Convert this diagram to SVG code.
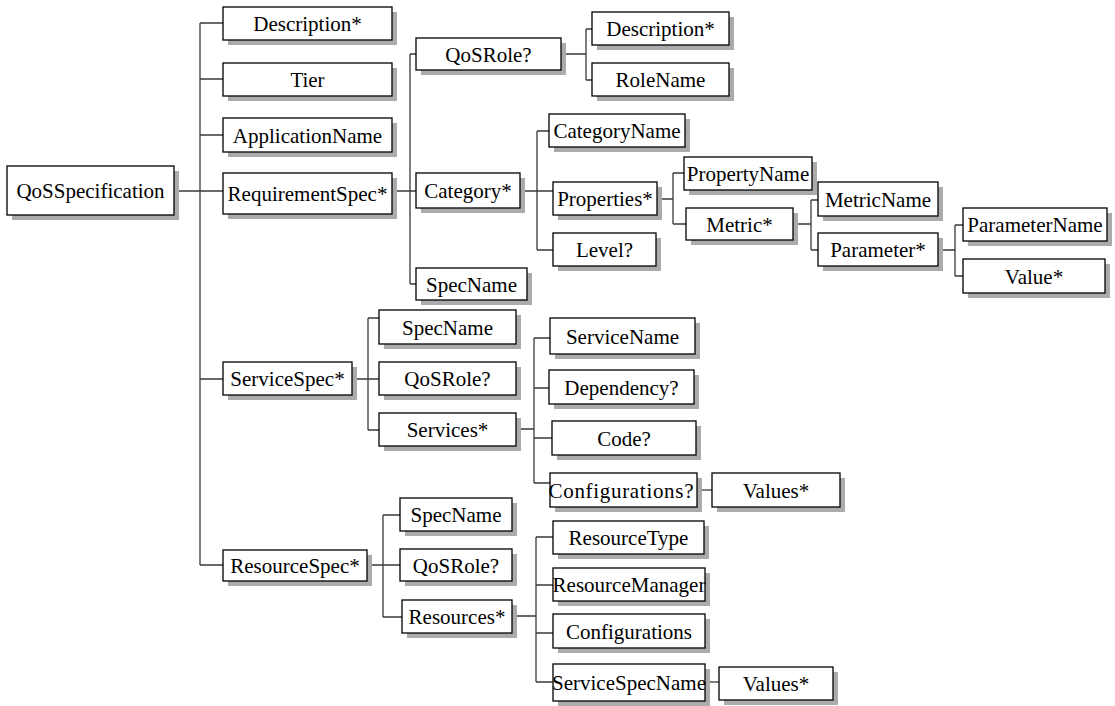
<svg xmlns="http://www.w3.org/2000/svg" width="1115" height="706" viewBox="0 0 1115 706">
  <style>
    .sh { fill: #ababab; stroke: none; }
    .bx { fill: #ffffff; stroke: #000000; stroke-width: 1.3; }
    .lb { font-family: "Liberation Serif", "Times New Roman", serif; font-size: 21px; fill: #000000; text-anchor: middle; }
    .cn { fill: none; stroke: #3a3a3a; stroke-width: 1.3; }
  </style>
  <rect width="1115" height="706" fill="#ffffff"/>

  <!-- tree connectors -->
  <g id="connectors" class="cn">
    <!-- root trunk -->
    <path d="M174 191 H223 M200 23 V565 M200 23 H223 M200 79 H223 M200 135 H223 M200 379 H223 M200 565 H223"/>
    <!-- RequirementSpec -->
    <path d="M392 191 H416 M410 54 V284 M410 54 H416 M410 284 H416"/>
    <!-- QoSRole (requirement) -->
    <path d="M561 54 H586 M586 29 V80 M586 29 H592 M586 80 H592"/>
    <!-- Category -->
    <path d="M520 191 H553 M537 131 V250 M537 131 H549 M537 250 H553"/>
    <!-- Properties -->
    <path d="M657 199 H673 M673 173 V224 M673 173 H684 M673 224 H686"/>
    <!-- Metric -->
    <path d="M793 224 H811 M811 200 V250 M811 200 H818 M811 250 H818"/>
    <!-- Parameter -->
    <path d="M938 250 H955 M955 225 V276 M955 225 H963 M955 276 H963"/>
    <!-- ServiceSpec -->
    <path d="M352 379 H379 M368 318 V430 M368 318 H379 M368 430 H379"/>
    <!-- Services -->
    <path d="M516 429 H534 M534 338 V483 M534 338 H550 M534 388 H549 M534 438 H552 M534 483 H550"/>
    <path d="M697 490 H712"/>
    <!-- ResourceSpec -->
    <path d="M367 565 H400 M383 515 V617 M383 515 H400 M383 617 H402"/>
    <!-- Resources -->
    <path d="M512 616 H536 M536 537 V682 M536 537 H553 M536 585 H553 M536 633 H553 M536 682 H553"/>
    <path d="M705 682 H719"/>
  </g>

  <!-- nodes -->
  <g id="n-qosspecification"><rect class="sh" x="12" y="171" width="167" height="49"/><rect class="bx" x="7" y="166" width="167" height="49"/><text class="lb" x="90.5" y="198">QoSSpecification</text></g>

  <g id="n-description"><rect class="sh" x="228" y="12" width="169" height="33"/><rect class="bx" x="223" y="7" width="169" height="33"/><text class="lb" x="307.5" y="31">Description*</text></g>
  <g id="n-tier"><rect class="sh" x="228" y="68" width="169" height="33"/><rect class="bx" x="223" y="63" width="169" height="33"/><text class="lb" x="307.5" y="87">Tier</text></g>
  <g id="n-applicationname"><rect class="sh" x="228" y="123" width="169" height="34"/><rect class="bx" x="223" y="118" width="169" height="34"/><text class="lb" x="307.5" y="142.5">ApplicationName</text></g>
  <g id="n-requirementspec"><rect class="sh" x="228" y="178" width="169" height="41"/><rect class="bx" x="223" y="173" width="169" height="41"/><text class="lb" x="307.5" y="201">RequirementSpec*</text></g>
  <g id="n-servicespec"><rect class="sh" x="228" y="367" width="129" height="33"/><rect class="bx" x="223" y="362" width="129" height="33"/><text class="lb" x="287.5" y="386">ServiceSpec*</text></g>
  <g id="n-resourcespec"><rect class="sh" x="228" y="555" width="144" height="31"/><rect class="bx" x="223" y="550" width="144" height="31"/><text class="lb" x="295" y="573">ResourceSpec*</text></g>

  <g id="n-req-qosrole"><rect class="sh" x="421" y="43" width="145" height="32"/><rect class="bx" x="416" y="38" width="145" height="32"/><text class="lb" x="488.5" y="61.5">QoSRole?</text></g>
  <g id="n-category"><rect class="sh" x="421" y="178" width="104" height="35"/><rect class="bx" x="416" y="173" width="104" height="35"/><text class="lb" x="468" y="198">Category*</text></g>
  <g id="n-req-specname"><rect class="sh" x="421" y="273" width="111" height="32"/><rect class="bx" x="416" y="268" width="111" height="32"/><text class="lb" x="471.5" y="291.5">SpecName</text></g>

  <g id="n-role-description"><rect class="sh" x="597" y="17" width="137" height="33"/><rect class="bx" x="592" y="12" width="137" height="33"/><text class="lb" x="660.5" y="36">Description*</text></g>
  <g id="n-rolename"><rect class="sh" x="597" y="68" width="137" height="33"/><rect class="bx" x="592" y="63" width="137" height="33"/><text class="lb" x="660.5" y="87">RoleName</text></g>

  <g id="n-categoryname"><rect class="sh" x="554" y="119" width="136" height="33"/><rect class="bx" x="549" y="114" width="136" height="33"/><text class="lb" x="617" y="138">CategoryName</text></g>
  <g id="n-properties"><rect class="sh" x="558" y="187" width="104" height="33"/><rect class="bx" x="553" y="182" width="104" height="33"/><text class="lb" x="605" y="206">Properties*</text></g>
  <g id="n-level"><rect class="sh" x="558" y="238" width="103" height="33"/><rect class="bx" x="553" y="233" width="103" height="33"/><text class="lb" x="604.5" y="257">Level?</text></g>

  <g id="n-propertyname"><rect class="sh" x="689" y="162" width="128" height="33"/><rect class="bx" x="684" y="157" width="128" height="33"/><text class="lb" x="748" y="181">PropertyName</text></g>
  <g id="n-metric"><rect class="sh" x="691" y="213" width="107" height="32"/><rect class="bx" x="686" y="208" width="107" height="32"/><text class="lb" x="739.5" y="231.5">Metric*</text></g>
  <g id="n-metricname"><rect class="sh" x="823" y="187" width="120" height="34"/><rect class="bx" x="818" y="182" width="120" height="34"/><text class="lb" x="878" y="206.5">MetricName</text></g>
  <g id="n-parameter"><rect class="sh" x="823" y="238" width="120" height="33"/><rect class="bx" x="818" y="233" width="120" height="33"/><text class="lb" x="878" y="257">Parameter*</text></g>
  <g id="n-parametername"><rect class="sh" x="968" y="213" width="144" height="33"/><rect class="bx" x="963" y="208" width="144" height="33"/><text class="lb" x="1035" y="232">ParameterName</text></g>
  <g id="n-value"><rect class="sh" x="968" y="264" width="142" height="34"/><rect class="bx" x="963" y="259" width="142" height="34"/><text class="lb" x="1034" y="283.5">Value*</text></g>

  <g id="n-svc-specname"><rect class="sh" x="384" y="315" width="137" height="34"/><rect class="bx" x="379" y="310" width="137" height="34"/><text class="lb" x="447.5" y="334.5">SpecName</text></g>
  <g id="n-svc-qosrole"><rect class="sh" x="384" y="367" width="137" height="33"/><rect class="bx" x="379" y="362" width="137" height="33"/><text class="lb" x="447.5" y="386">QoSRole?</text></g>
  <g id="n-services"><rect class="sh" x="384" y="418" width="137" height="33"/><rect class="bx" x="379" y="413" width="137" height="33"/><text class="lb" x="447.5" y="437">Services*</text></g>

  <g id="n-servicename"><rect class="sh" x="555" y="323" width="145" height="36"/><rect class="bx" x="550" y="318" width="145" height="36"/><text class="lb" x="622.5" y="343.5">ServiceName</text></g>
  <g id="n-dependency"><rect class="sh" x="554" y="375" width="145" height="34"/><rect class="bx" x="549" y="370" width="145" height="34"/><text class="lb" x="621.5" y="394.5">Dependency?</text></g>
  <g id="n-code"><rect class="sh" x="557" y="426" width="144" height="34"/><rect class="bx" x="552" y="421" width="144" height="34"/><text class="lb" x="624" y="445.5">Code?</text></g>
  <g id="n-svc-configurations"><rect class="sh" x="555" y="478" width="147" height="34"/><rect class="bx" x="550" y="473" width="147" height="34"/><text class="lb" x="621" y="497.5" textLength="145" lengthAdjust="spacing">Configurations?</text></g>
  <g id="n-svc-values"><rect class="sh" x="717" y="478" width="128" height="34"/><rect class="bx" x="712" y="473" width="128" height="34"/><text class="lb" x="776" y="497.5">Values*</text></g>

  <g id="n-res-specname"><rect class="sh" x="405" y="503" width="112" height="33"/><rect class="bx" x="400" y="498" width="112" height="33"/><text class="lb" x="456" y="522">SpecName</text></g>
  <g id="n-res-qosrole"><rect class="sh" x="405" y="554" width="112" height="32"/><rect class="bx" x="400" y="549" width="112" height="32"/><text class="lb" x="456" y="572.5">QoSRole?</text></g>
  <g id="n-resources"><rect class="sh" x="407" y="605" width="110" height="33"/><rect class="bx" x="402" y="600" width="110" height="33"/><text class="lb" x="457" y="624">Resources*</text></g>

  <g id="n-resourcetype"><rect class="sh" x="558" y="526" width="151" height="33"/><rect class="bx" x="553" y="521" width="151" height="33"/><text class="lb" x="628.5" y="545">ResourceType</text></g>
  <g id="n-resourcemanager"><rect class="sh" x="558" y="573" width="152" height="33"/><rect class="bx" x="553" y="568" width="152" height="33"/><text class="lb" x="629" y="592">ResourceManager</text></g>
  <g id="n-res-configurations"><rect class="sh" x="558" y="619" width="152" height="34"/><rect class="bx" x="553" y="614" width="152" height="34"/><text class="lb" x="629" y="638.5">Configurations</text></g>
  <g id="n-servicespecname"><rect class="sh" x="558" y="669" width="152" height="37"/><rect class="bx" x="553" y="664" width="152" height="37"/><text class="lb" x="629" y="690">ServiceSpecName</text></g>
  <g id="n-res-values"><rect class="sh" x="724" y="672" width="114" height="33"/><rect class="bx" x="719" y="667" width="114" height="33"/><text class="lb" x="776" y="691">Values*</text></g>
</svg>
